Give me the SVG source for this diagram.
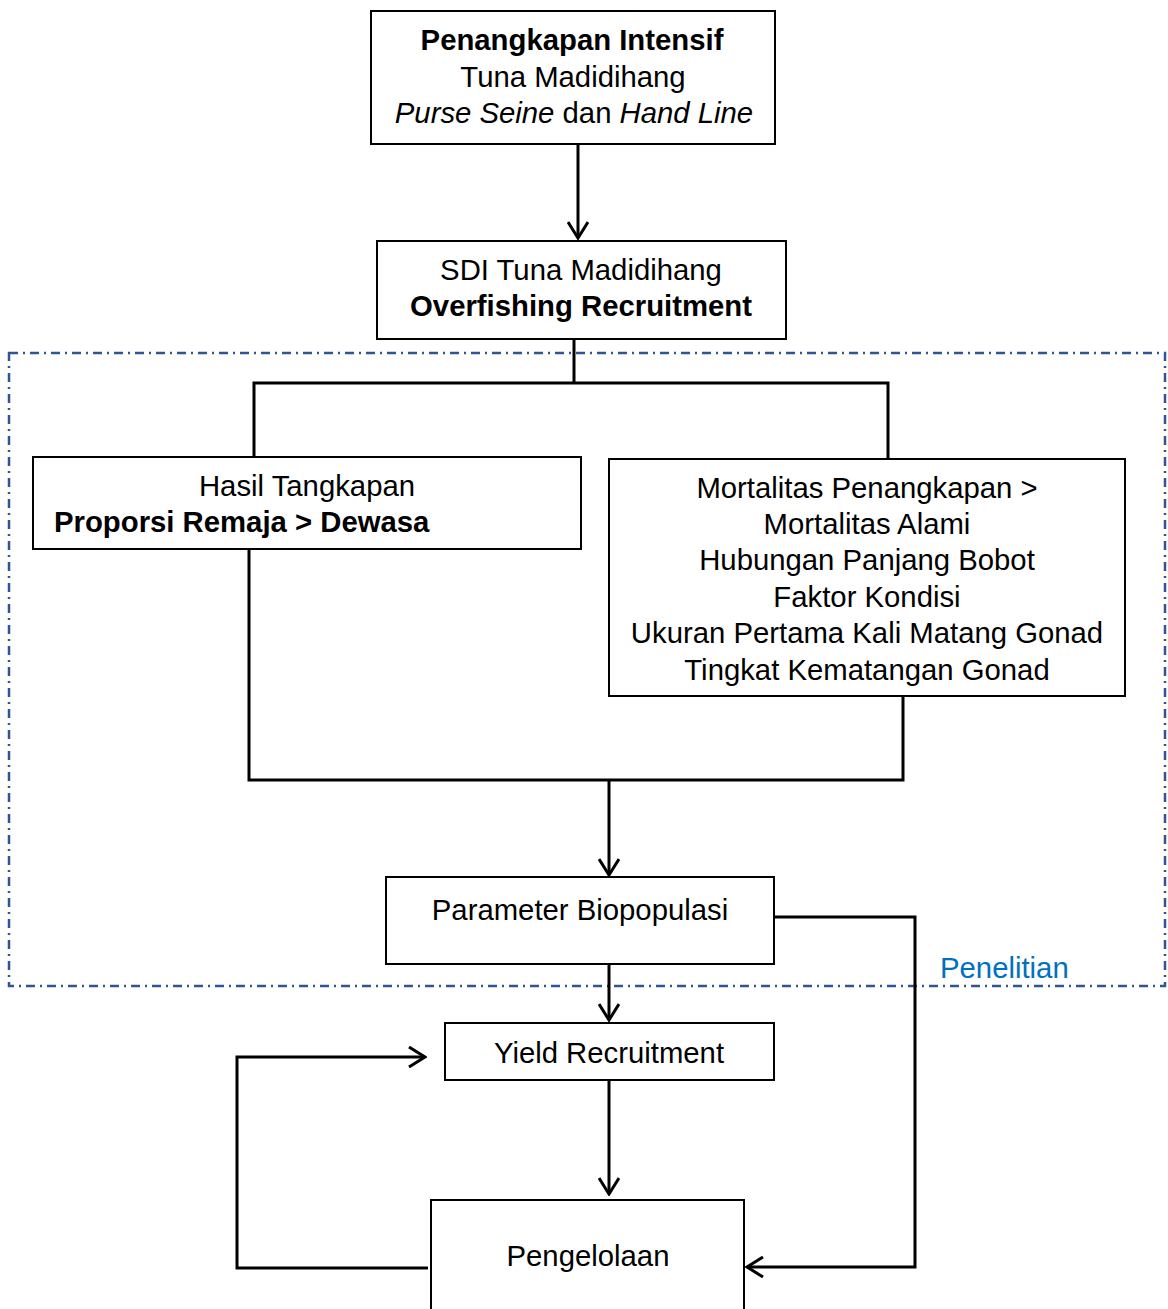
<svg xmlns="http://www.w3.org/2000/svg" width="1168" height="1309" viewBox="0 0 1168 1309">
<defs>
<style>
.box{fill:#fff;stroke:#000;stroke-width:2}
.t{font-family:"Liberation Sans",Arial,sans-serif;font-size:29.3px;fill:#000;text-anchor:middle}
.b{font-weight:bold}
.i{font-style:italic}
.c{fill:none;stroke:#000;stroke-width:3}
.frame{fill:none;stroke:#2F5597;stroke-width:2.5;stroke-dasharray:9 5 2 5}
</style>
<marker id="ah" markerUnits="userSpaceOnUse" viewBox="0 0 20 22" refX="18" refY="11" markerWidth="20" markerHeight="22" orient="auto">
<path d="M2,1 L18,11 L2,21" fill="none" stroke="#000" stroke-width="3"/>
</marker>
</defs>
<rect width="1168" height="1309" fill="#fff"/>
<g id="frame-penelitian">
<rect class="frame" x="9" y="353" width="1156" height="633"/>
<text x="940" y="978" style="font-family:'Liberation Sans',Arial,sans-serif;font-size:29.3px;fill:#0070C0">Penelitian</text>
</g>
<g id="connectors">
<line class="c" x1="578" y1="144" x2="578" y2="238" marker-end="url(#ah)"/>
<polyline class="c" points="574,339 574,383"/>
<polyline class="c" points="254,457 254,383 888,383 888,459"/>
<polyline class="c" points="249,549 249,780 903,780 903,696"/>
<line class="c" x1="609" y1="780" x2="609" y2="875" marker-end="url(#ah)"/>
<line class="c" x1="609" y1="964" x2="609" y2="1020" marker-end="url(#ah)"/>
<line class="c" x1="609" y1="1080" x2="609" y2="1194" marker-end="url(#ah)"/>
<polyline class="c" points="774,917 915,917 915,1267 747,1267" marker-end="url(#ah)"/>
<polyline class="c" points="428,1268 237,1268 237,1057 425,1057" marker-end="url(#ah)"/>
</g>
<g id="node-penangkapan">
<rect class="box" x="371" y="11" width="404" height="133"/>
<text class="t b" x="572" y="50">Penangkapan Intensif</text>
<text class="t" x="573" y="87">Tuna Madidihang</text>
<text class="t" x="574" y="123"><tspan class="i">Purse Seine</tspan> dan <tspan class="i">Hand Line</tspan></text>
</g>
<g id="node-sdi">
<rect class="box" x="377" y="241" width="409" height="98"/>
<text class="t" x="581" y="280">SDI Tuna Madidihang</text>
<text class="t b" x="581" y="316">Overfishing Recruitment</text>
</g>
<g id="node-hasil">
<rect class="box" x="33" y="457" width="548" height="92"/>
<text class="t" x="307" y="496">Hasil Tangkapan</text>
<text class="t b" x="54" y="532" style="text-anchor:start">Proporsi Remaja &gt; Dewasa</text>
</g>
<g id="node-mortalitas">
<rect class="box" x="609" y="459" width="516" height="237"/>
<text class="t" x="867" y="498">Mortalitas Penangkapan &gt;</text>
<text class="t" x="867" y="534">Mortalitas Alami</text>
<text class="t" x="867" y="570">Hubungan Panjang Bobot</text>
<text class="t" x="867" y="607">Faktor Kondisi</text>
<text class="t" x="867" y="643">Ukuran Pertama Kali Matang Gonad</text>
<text class="t" x="867" y="680">Tingkat Kematangan Gonad</text>
</g>
<g id="node-parameter">
<rect class="box" x="386" y="877" width="388" height="87"/>
<text class="t" x="580" y="920">Parameter Biopopulasi</text>
</g>
<g id="node-yield">
<rect class="box" x="445" y="1023" width="329" height="57"/>
<text class="t" x="609" y="1063">Yield Recruitment</text>
</g>
<g id="node-pengelolaan">
<rect class="box" x="431" y="1200" width="313" height="130"/>
<text class="t" x="588" y="1266">Pengelolaan</text>
</g>
</svg>
